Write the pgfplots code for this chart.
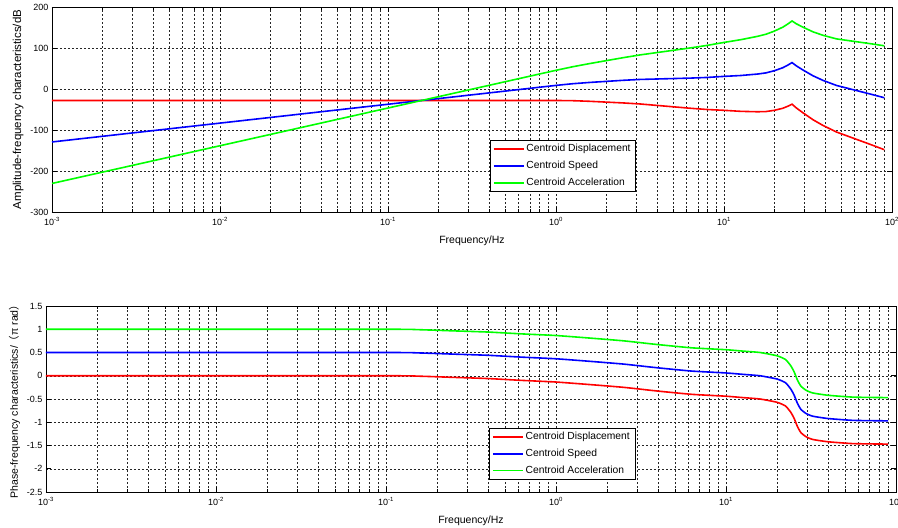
\documentclass[border=0pt]{standalone}
\usepackage{fontspec}
\setmainfont{Liberation Sans}
\newfontfamily\cjk{Noto Sans CJK SC}
\usepackage{pgfplots}
\pgfplotsset{compat=1.18}

\pgfplotsset{
  mstyle/.style={
    scale only axis,
    xmin=1e-3, xmax=1e2,
    xtick={1e-3,1e-2,1e-1,1,10,100},
    xticklabels={10\textsuperscript{-3},10\textsuperscript{-2},10\textsuperscript{-1},10\textsuperscript{0},10\textsuperscript{1},10\textsuperscript{2}},
    minor xtick={0.002,0.003,0.004,0.005,0.006,0.007,0.008,0.009,
                 0.02,0.03,0.04,0.05,0.06,0.07,0.08,0.09,
                 0.2,0.3,0.4,0.5,0.6,0.7,0.8,0.9,
                 2,3,4,5,6,7,8,9,
                 20,30,40,50,60,70,80,90},
    xmajorgrids, xminorgrids, ymajorgrids,
    grid style={black!85, dash pattern=on 2pt off 2pt, line width=0.5pt},
    minor grid style={black!85, dash pattern=on 2pt off 2pt, line width=0.5pt},
    major tick length=5pt, minor tick length=3pt,
    tick style={black, line width=0.6pt},
    axis line style={line width=0.8pt},
    tick label style={font=\fontsize{9}{10}\selectfont},
    xticklabel style={yshift=-2pt},
    label style={font=\fontsize{10.5}{12}\selectfont},
    xlabel style={yshift=-3pt},
    legend cell align=left,
    legend style={font=\fontsize{10.3}{12}\selectfont, draw=black, line width=0.6pt,
      row sep=4pt, nodes={inner sep=2pt}, anchor=north west},
    legend image code/.code={\draw[#1, line width=1.5pt] (0pt,0pt) -- (30pt,0pt);},
    every axis plot/.append style={line width=1.6pt},
    xlabel={Frequency/Hz},
  }
}

\begin{document}
\begin{tikzpicture}
\begin{semilogxaxis}[mstyle,
  at={(52pt,316pt)}, anchor=south west,
  width=840pt, height=205pt,
  ymin=-300, ymax=200,
  ytick={-300,-200,-100,0,100,200},
  yticklabels={-300,-200,-100,0,100,200},
  ylabel={Amplitude-frequency characteristics/dB},
  ylabel style={font=\fontsize{11.5}{12}\selectfont},
  legend style={at={(0.521,0.351)}},
]
\addplot[red] coordinates {(0.001,-28) (0.01,-28) (0.1,-28) (0.3162,-28) (1,-28) (1.259,-28.5) (1.585,-30) (1.995,-32) (2.512,-34) (3.162,-36.5) (3.981,-40) (5.012,-43.5) (6.310,-47) (7.943,-50) (10,-52) (12.59,-54.5) (15.85,-55.5) (17.78,-55) (19.95,-52) (22.39,-47) (23.99,-42) (25.41,-37) (26.92,-46) (29.51,-58) (33.88,-75) (38.90,-89) (46.77,-105) (58.88,-120) (74.13,-135) (90,-148)};
\addlegendentry{Centroid Displacement}
\addplot[blue] coordinates {(0.001,-129.2) (0.01,-83.2) (0.1,-37.2) (0.3162,-14.2) (1,8.8) (1.259,12.9) (1.585,16) (1.995,18.6) (2.512,21.2) (3.162,23.3) (3.981,24.4) (5.012,25.5) (6.310,26.6) (7.943,28.2) (10,30.8) (12.59,32.9) (15.85,36.5) (17.78,39.3) (19.95,44.6) (22.39,51.9) (23.99,58.3) (25.41,64.4) (26.92,56.6) (29.51,46.4) (33.88,32.2) (38.90,20.9) (46.77,8.6) (58.88,-1.8) (74.13,-12.2) (90,-21.3)};
\addlegendentry{Centroid Speed}
\addplot[green] coordinates {(0.001,-230.4) (0.01,-138.4) (0.1,-46.4) (0.3162,-0.4) (1,45.6) (1.259,54.3) (1.585,62) (1.995,69.2) (2.512,76.4) (3.162,83.1) (3.981,88.8) (5.012,94.5) (6.310,100.2) (7.943,106.4) (10,113.6) (12.59,120.3) (15.85,128.5) (17.78,133.6) (19.95,141.2) (22.39,150.8) (23.99,158.6) (25.41,165.9) (26.92,159.2) (29.51,150.8) (33.88,139.4) (38.90,130.9) (46.77,122.2) (58.88,116.4) (74.13,110.6) (90,105.4)};
\addlegendentry{Centroid Acceleration}
\end{semilogxaxis}

\begin{semilogxaxis}[mstyle,
  at={(46pt,36pt)}, anchor=south west,
  width=850pt, height=186pt,
  ymin=-2.5, ymax=1.5,
  ytick={-2.5,-2,-1.5,-1,-0.5,0,0.5,1,1.5},
  yticklabels={-2.5,-2,-1.5,-1,-0.5,0,0.5,1,1.5},
  ylabel={Phase-frequency characteristics/{\cjk （}π rad{\cjk ）}},
  ylabel style={font=\fontsize{10.5}{12}\selectfont},
  legend style={at={(0.521,0.344)}},
]
\addplot[red, smooth, tension=0.3] coordinates {(0.001,0) (0.1,0) (0.1585,-0.01) (0.2512,-0.035) (0.3981,-0.06) (0.6310,-0.10) (1,-0.135) (1.585,-0.19) (2.512,-0.25) (3.981,-0.33) (6.310,-0.40) (10,-0.44) (12.59,-0.47) (15.85,-0.50) (19.95,-0.57) (22.39,-0.65) (23.99,-0.78) (25.12,-0.91) (26.30,-1.09) (27.54,-1.22) (29.51,-1.31) (32.36,-1.37) (39.81,-1.42) (56.23,-1.46) (90,-1.47)};
\addlegendentry{Centroid Displacement}
\addplot[blue, smooth, tension=0.3] coordinates {(0.001,0.5) (0.1,0.5) (0.1585,0.49) (0.2512,0.465) (0.3981,0.44) (0.6310,0.40) (1,0.365) (1.585,0.31) (2.512,0.25) (3.981,0.17) (6.310,0.10) (10,0.06) (12.59,0.03) (15.85,0.00) (19.95,-0.07) (22.39,-0.15) (23.99,-0.28) (25.12,-0.41) (26.30,-0.59) (27.54,-0.72) (29.51,-0.81) (32.36,-0.87) (39.81,-0.92) (56.23,-0.96) (90,-0.97)};
\addlegendentry{Centroid Speed}
\addplot[green, smooth, tension=0.3] coordinates {(0.001,1) (0.1,1) (0.1585,0.99) (0.2512,0.965) (0.3981,0.94) (0.6310,0.90) (1,0.865) (1.585,0.81) (2.512,0.75) (3.981,0.67) (6.310,0.60) (10,0.56) (12.59,0.53) (15.85,0.50) (19.95,0.43) (22.39,0.35) (23.99,0.22) (25.12,0.09) (26.30,-0.09) (27.54,-0.22) (29.51,-0.31) (32.36,-0.37) (39.81,-0.42) (56.23,-0.46) (90,-0.47)};
\addlegendentry{Centroid Acceleration}
\end{semilogxaxis}
\pgfresetboundingbox
\useasboundingbox (0,0) rectangle (898pt,528pt);
\end{tikzpicture}
\end{document}
